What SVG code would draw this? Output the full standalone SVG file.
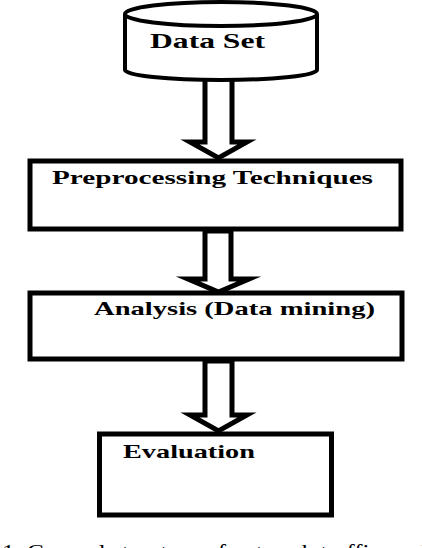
<svg xmlns="http://www.w3.org/2000/svg" width="422" height="548" viewBox="0 0 422 548">
<style>
.shape{fill:#fff;stroke:#000;stroke-width:5}
.cyl{fill:#fff;stroke:#000;stroke-width:4}
.arrow{fill:#fff;stroke:#000;stroke-width:5;stroke-linejoin:miter;stroke-miterlimit:10}
.lbl{font-family:"Liberation Serif","Times New Roman","DejaVu Serif",serif;font-weight:bold;fill:#000}
.cap{font-family:"Liberation Serif","Times New Roman","DejaVu Serif",serif;fill:#000;font-size:22px}
</style>
<rect width="422" height="548" fill="#fff"/>
<g id="connectors">
<polygon class="arrow" points="205,78 205,142 190,142 218.5,158 247,142 232,142 232,78"/>
<polygon class="arrow" points="205,231 205,279 188,279 218.5,292 249,279 231,279 231,231"/>
<polygon class="arrow" points="205,361 205,415 190,415 218.5,431 247,415 232,415 232,361"/>
</g>
<g id="dataset">
<path class="cyl" d="M125,14 L125,70 A96,10 0 0 0 317,70 L317,14"/>
<ellipse class="cyl" cx="221" cy="14" rx="96" ry="12"/>
<text class="lbl" x="150" y="48" font-size="21" textLength="115" lengthAdjust="spacingAndGlyphs">Data Set</text>
</g>
<g id="preprocessing">
<rect class="shape" x="30" y="161" width="371" height="68"/>
<text class="lbl" x="52" y="184" font-size="19" textLength="321" lengthAdjust="spacingAndGlyphs">Preprocessing Techniques</text>
</g>
<g id="analysis">
<rect class="shape" x="30" y="293" width="372" height="66"/>
<text class="lbl" x="94" y="315" font-size="19" textLength="281" lengthAdjust="spacingAndGlyphs">Analysis (Data mining)</text>
</g>
<g id="evaluation">
<rect class="shape" x="99.5" y="434" width="232" height="81"/>
<text class="lbl" x="123" y="458" font-size="19" textLength="132" lengthAdjust="spacingAndGlyphs">Evaluation</text>
</g>
<text class="cap" x="2" y="559" textLength="465" lengthAdjust="spacingAndGlyphs">1. General structure of network traffic analysis</text>
</svg>
